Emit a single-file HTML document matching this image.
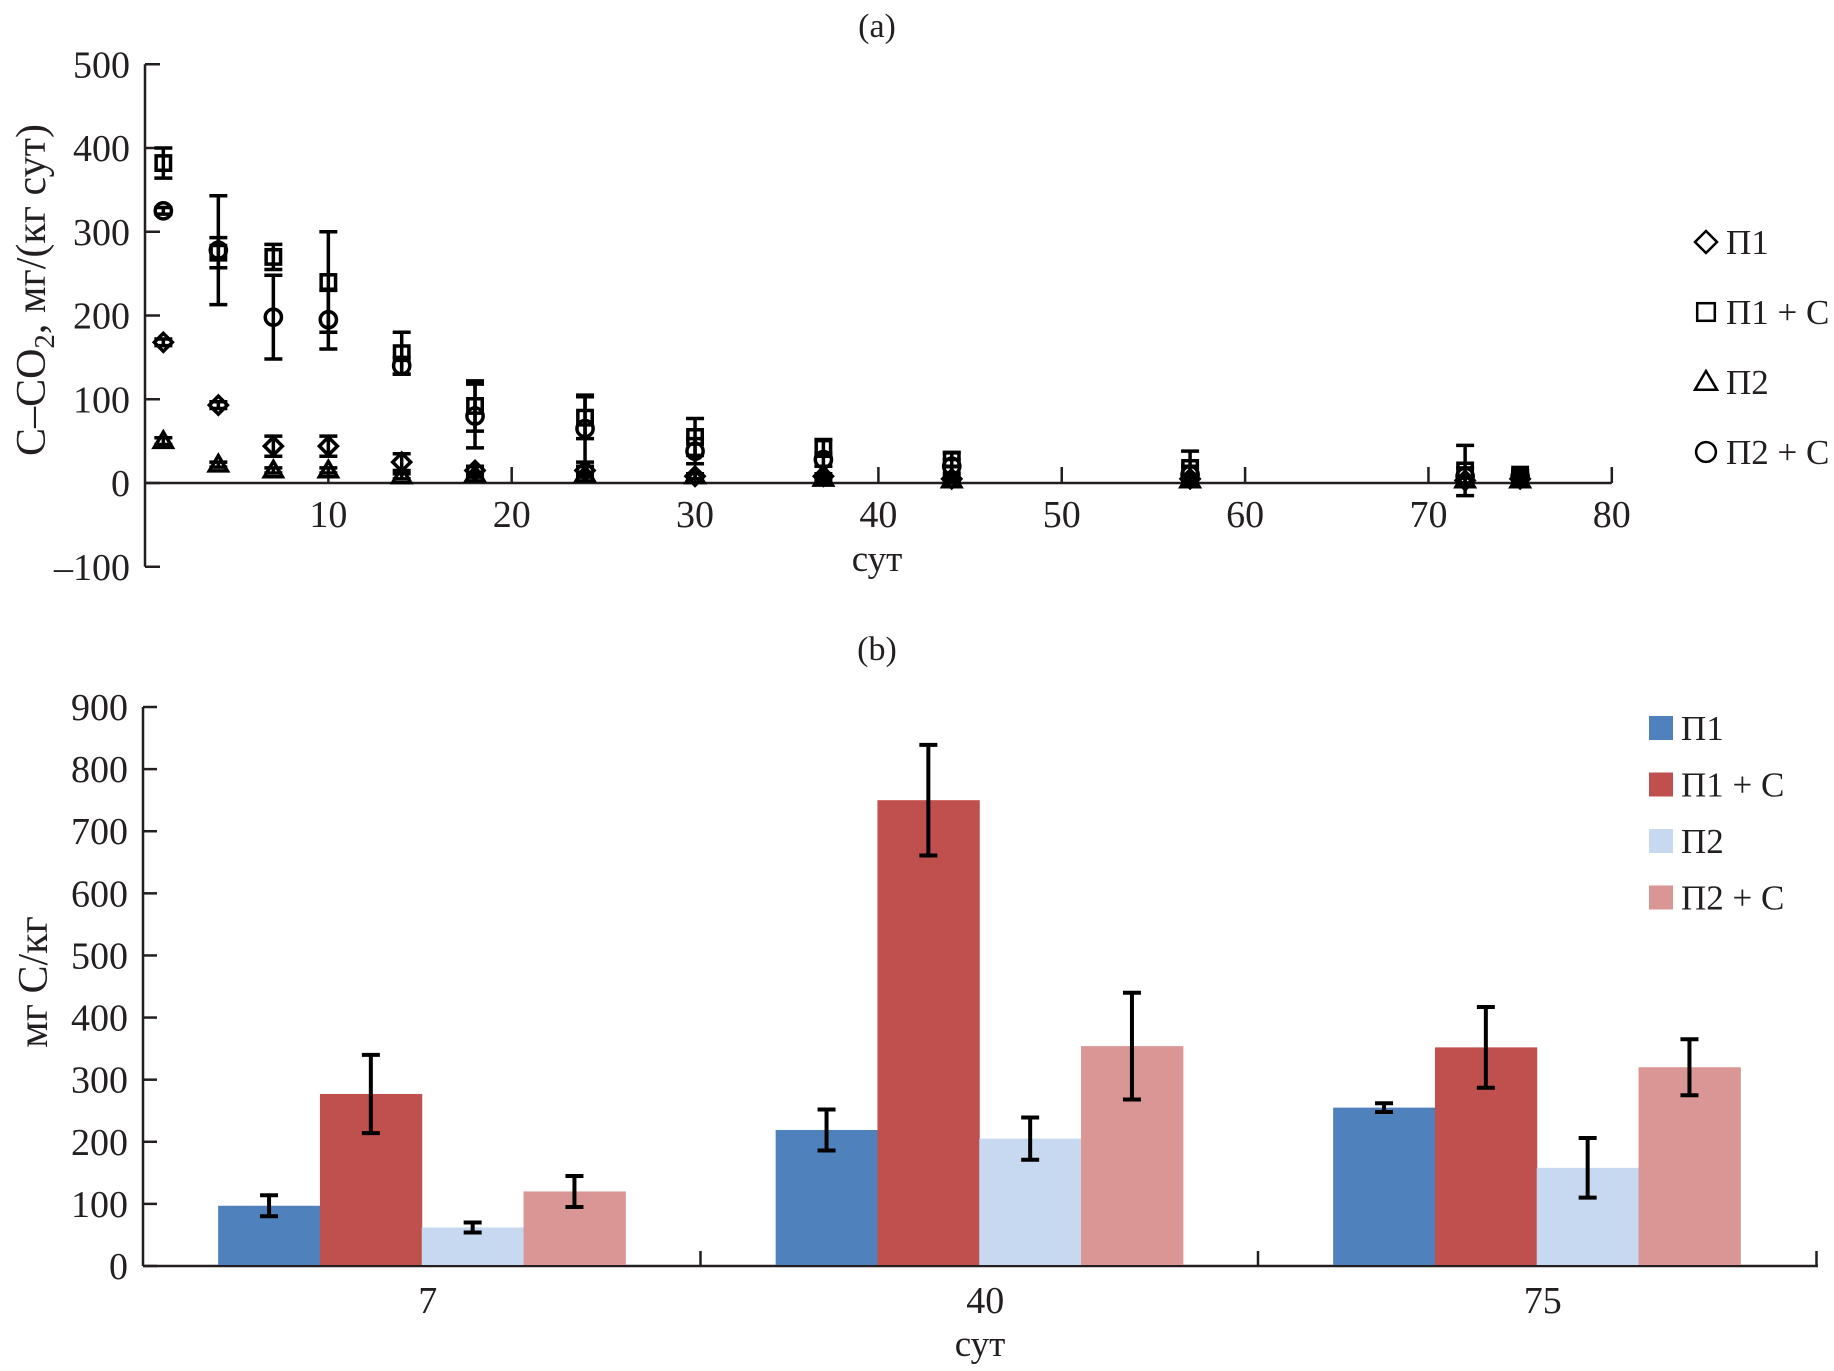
<!DOCTYPE html>
<html><head><meta charset="utf-8"><style>
html,body{margin:0;padding:0;background:#fff;}
svg{display:block;font-family:"Liberation Serif",serif;}
</style></head><body>
<svg id="c" width="1834" height="1371" viewBox="0 0 1834 1371" xmlns="http://www.w3.org/2000/svg">
<text x="877" y="37" font-size="34" text-anchor="middle" fill="#231f20">(a)</text>
<text x="877" y="660" font-size="34" text-anchor="middle" fill="#231f20">(b)</text>
<text x="877" y="571" font-size="37" text-anchor="middle" fill="#231f20">сут</text>
<text x="980" y="1356" font-size="37" text-anchor="middle" fill="#231f20">сут</text>
<text transform="translate(45,290) rotate(-90)" font-size="42" text-anchor="middle" fill="#231f20">C–CO<tspan font-size="29" dy="9">2</tspan><tspan dy="-9">, мг/(кг сут)</tspan></text>
<text transform="translate(47,982) rotate(-90)" font-size="42" text-anchor="middle" fill="#231f20">мг С/кг</text>
<g id="ga"></g>
<g id="gb"></g>
</svg>
<script>
// Panel (a) data
const days = [1,4,7,10,14,18,24,30,37,44,57,72,75];
const p1 = [168,93,44,44,25,15,15,8,8,5,5,3,5];
const p1Err = [4,4,12,12,10,5,5,3,3,3,3,3,3];
const p1c = [382,275,270,240,155,92,78,55,42,28,18,15,10];
const p1cErr = [18,18,15,60,25,30,25,22,10,8,20,30,5];
const p2 = [50,22,15,15,8,10,10,8,5,3,3,3,3];
const p2Err = [4,3,3,3,3,3,3,3,3,3,3,3,3];
const p2c = [325,278,198,195,140,80,65,38,28,20,10,8,8];
const p2cErr = [4,65,50,35,10,38,40,15,8,8,10,10,5];
const aYTicks = [-100,0,100,200,300,400,500];
const aXTicks = [10,20,30,40,50,60,70,80];
// Panel (b) data
const cats = ['7','40','75'];
const bP1 = [97,219,255];
const bP1Err = [17,33,7];
const bP1c = [277,750,352];
const bP1cErr = [63,89,65];
const bP2 = [62,205,158];
const bP2Err = [8,34,48];
const bP2c = [120,354,320];
const bP2cErr = [25,86,45];
const bYTicks = [0,100,200,300,400,500,600,700,800,900];

const NS='http://www.w3.org/2000/svg';
function mk(parent,tag,attrs){const e=document.createElementNS(NS,tag);for(const k in attrs)e.setAttribute(k,attrs[k]);parent.appendChild(e);return e;}
const ink='#231f20';
// ---- Panel a
const ga=document.getElementById('ga');
const ax=d=>145+d*18.335;
const ay=v=>483-v*0.8375;
let l=mk(ga,'line',{x1:145,y1:ay(500),x2:145,y2:ay(-100),stroke:ink,'stroke-width':2.5});


l=mk(ga,'line',{x1:145,y1:ay(0),x2:ax(80),y2:ay(0),stroke:ink,'stroke-width':2.5});


aYTicks.forEach(v=>{
  mk(ga,'line',{x1:145,y1:ay(v),x2:160,y2:ay(v),stroke:ink,'stroke-width':2.5});
  const t=mk(ga,'text',{x:130,y:ay(v)+13,'font-size':38,'text-anchor':'end',fill:ink});
  t.textContent=v<0?'–'+(-v):String(v);
  
  
});
aXTicks.forEach(v=>{
  mk(ga,'line',{x1:ax(v),y1:ay(0),x2:ax(v),y2:ay(0)-16,stroke:ink,'stroke-width':2.5});
  const t=mk(ga,'text',{x:ax(v),y:527,'font-size':38,'text-anchor':'middle',fill:ink});
  t.textContent=String(v);
  
  
});
function marker(g,type,x,y,s){
  const st={fill:'none',stroke:'#000','stroke-width':3.5};
  let e;
  if(type==='d') e=mk(g,'polygon',Object.assign({points:`${x},${y-s} ${x+s},${y} ${x},${y+s} ${x-s},${y}`},st));
  else if(type==='s') e=mk(g,'rect',Object.assign({x:x-s*0.8,y:y-s*0.8,width:s*1.6,height:s*1.6},st));
  else if(type==='t') e=mk(g,'polygon',Object.assign({points:`${x},${y-s} ${x+s},${y+s*0.7} ${x-s},${y+s*0.7}`},st));
  else e=mk(g,'circle',Object.assign({cx:x,cy:y,r:s*0.9},st));
  return e;
}
function errbar(g,x,lo,hi,w,sw){
  mk(g,'line',{x1:x,y1:lo,x2:x,y2:hi,stroke:'#000','stroke-width':sw});
  mk(g,'line',{x1:x-w,y1:lo,x2:x+w,y2:lo,stroke:'#000','stroke-width':sw});
  mk(g,'line',{x1:x-w,y1:hi,x2:x+w,y2:hi,stroke:'#000','stroke-width':sw});
}
const aSeries=[['p1','d',p1,p1Err],['p1c','s',p1c,p1cErr],['p2','t',p2,p2Err],['p2c','c',p2c,p2cErr]];
aSeries.forEach(([nm,type,vals,errs])=>{
  const g=mk(ga,'g',{});
  
  
  days.forEach((d,i)=>{
    const x=ax(d);
    errbar(g,x,ay(vals[i]-errs[i]),ay(vals[i]+errs[i]),9,3.5);
    const m=marker(g,type,x,ay(vals[i]),9);
    
    
  });
});
const aLeg=[['d','П1'],['s','П1 + С'],['t','П2'],['c','П2 + С']];
aLeg.forEach(([type,lab],i)=>{
  const y=242+i*70;
  const g=mk(ga,'g',{});
  
  
  const m=marker(g,type,1706,y,11);
  m.setAttribute('stroke-width','2.5');
  const t=mk(g,'text',{x:1726,y:y+12,'font-size':35,fill:ink});
  t.textContent=lab;
});
// ---- Panel b
const gb=document.getElementById('gb');
const by=v=>1266-v*0.6211;
const catW=557.5, x0=143;
const bw=101.8;
l=mk(gb,'line',{x1:143,y1:by(900),x2:143,y2:by(0),stroke:ink,'stroke-width':2.5});


l=mk(gb,'line',{x1:143,y1:by(0),x2:1818,y2:by(0),stroke:ink,'stroke-width':2.5});


bYTicks.forEach(v=>{
  mk(gb,'line',{x1:143,y1:by(v),x2:157,y2:by(v),stroke:ink,'stroke-width':2.5});
  const t=mk(gb,'text',{x:128,y:by(v)+13,'font-size':38,'text-anchor':'end',fill:ink});
  t.textContent=String(v);
  
  
});
[1,2,3].forEach(k=>{
  mk(gb,'line',{x1:x0+k*catW+(k===3?1:0),y1:by(0),x2:x0+k*catW+(k===3?1:0),y2:by(0)-15,stroke:ink,'stroke-width':2.5});
});
const colors=['#4f81bd','#c0504d','#c6d9f0','#d99694'];
const bSeries=[['p1',bP1,bP1Err],['p1c',bP1c,bP1cErr],['p2',bP2,bP2Err],['p2c',bP2c,bP2cErr]];
cats.forEach((c,ci)=>{
  const cx=x0+catW*(ci+0.5);
  const t=mk(gb,'text',{x:cx+6,y:1313,'font-size':38,'text-anchor':'middle',fill:ink});
  t.textContent=c;
  
  
  bSeries.forEach(([nm,vals,errs],si)=>{
    const x=cx-2*bw+si*bw;
    const r=mk(gb,'rect',{x:x,y:by(vals[ci]),width:bw+0.5,height:by(0)-by(vals[ci])-1,fill:colors[si]});
    
    
  });
  bSeries.forEach(([nm,vals,errs],si)=>{
    const x=cx-2*bw+si*bw+bw/2;
    errbar(gb,x,by(vals[ci]-errs[ci]),by(vals[ci]+errs[ci]),9,4);
  });
});
const bLeg=['П1','П1 + С','П2','П2 + С'];
bLeg.forEach((lab,i)=>{
  const y=716+i*56.5;
  const g=mk(gb,'g',{});
  
  
  mk(g,'rect',{x:1649,y:y,width:24,height:24,fill:colors[i]});
  const t=mk(g,'text',{x:1681,y:y+24,'font-size':35,fill:ink});
  t.textContent=lab;
});
</script>
</body></html>
